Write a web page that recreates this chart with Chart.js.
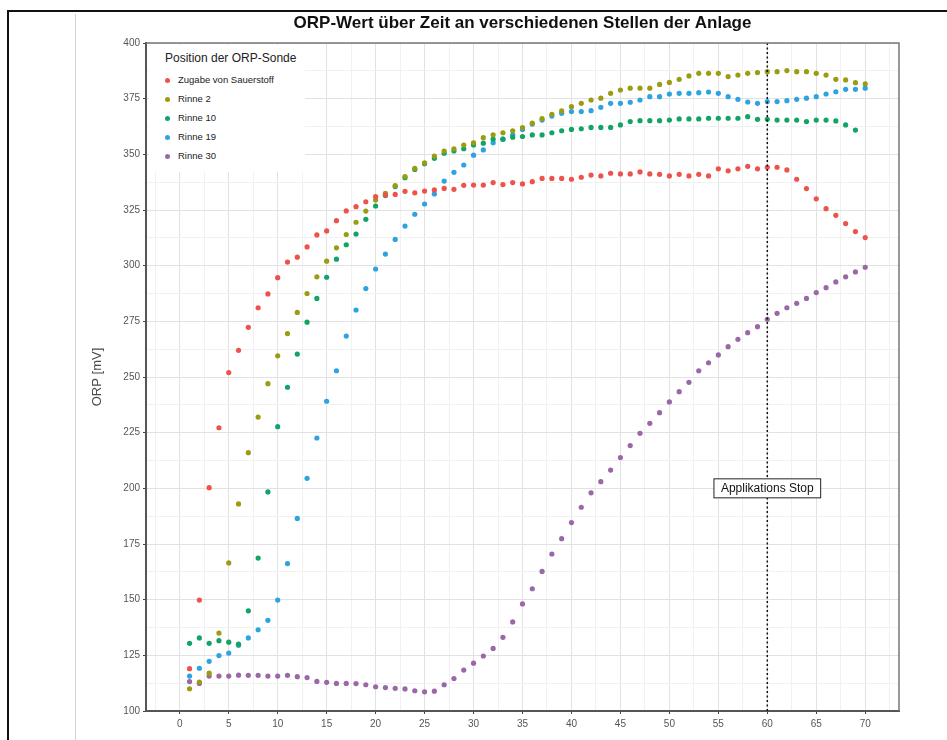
<!DOCTYPE html>
<html>
<head>
<meta charset="utf-8">
<script src="https://cdn.jsdelivr.net/npm/chart.js@4.4.1/dist/chart.umd.min.js"></script>
<style>
  body { margin: 0; background: #fff; font-family: "Liberation Sans", Arial, sans-serif; }
  #wrap { position: relative; width: 947px; height: 740px; }
  .linie { position: absolute; }
  #legende { position: absolute; left: 149px; top: 45px; width: 156px; height: 127px; background: #fff; }
  #legende .titel { position: absolute; left: 16px; top: 6px; font-size: 12px; color: #222; white-space: nowrap; }
  #legende .eintrag { position: absolute; left: 29px; font-size: 9.5px; color: #222; white-space: nowrap; }
  #legende .punkt { position: absolute; left: -13px; top: 4px; width: 5px; height: 5px; border-radius: 50%; }
</style>
</head>
<body>
<div id="wrap">
  <canvas id="orpChart" width="947" height="740"></canvas>
  <div class="linie" style="left:7px; top:10px; width:940px; height:2px; background:#111;"></div>
  <div class="linie" style="left:7px; top:10px; width:2px; height:730px; background:#111;"></div>
  <div class="linie" style="left:75px; top:14px; width:1px; height:726px; background:#d4d4d4;"></div>
  <div id="legende"></div>
</div>
<script>
var zeit = [1, 2, 3, 4, 5, 6, 7, 8, 9, 10, 11, 12, 13, 14, 15, 16, 17, 18, 19, 20,
    21, 22, 23, 24, 25, 26, 27, 28, 29, 30, 31, 32, 33, 34, 35, 36, 37, 38, 39, 40,
    41, 42, 43, 44, 45, 46, 47, 48, 49, 50, 51, 52, 53, 54, 55, 56, 57, 58, 59, 60,
    61, 62, 63, 64, 65, 66, 67, 68, 69, 70];

var sauerstoff = [119, 149.8, 200.3, 227.2, 252, 262, 272.3, 281.1, 287.3, 294.6,
    301.6, 303.8, 308.4, 313.8, 315.6, 320.2, 324.6, 326.5, 328.7, 331,
    331.7, 332, 333.4, 332.7, 333.5, 334, 334.7, 334.3, 336.1, 336.2,
    336.2, 337.3, 336.4, 337.3, 336.7, 337.7, 339.2, 339.2, 339.2, 338.8,
    339.7, 340.7, 340.3, 341.5, 341.2, 341.2, 342.1, 341.2, 341, 340.3,
    341, 340.3, 341, 340.3, 343.5, 342.6, 343.5, 344.6, 343.5, 344.2,
    344.2, 343, 338.8, 334.6, 330, 325.6, 322.6, 318.9, 315.3, 312.6];

var rinne2 = [110, 113, 117, 135, 166.5, 193, 216, 232, 247, 259.5,
    269.5, 279, 287.5, 295, 302, 308, 314, 319.5, 324.5, 329.5,
    332.5, 336, 340, 343.7, 346.2, 349.2, 351.5, 352.5, 354.2, 355.2,
    357.5, 358.8, 359.7, 360.6, 362, 364, 366, 368, 369.5, 371.4,
    372.9, 374.4, 375.2, 377.4, 378.9, 379.7, 379.7, 379.7, 381.4, 382.3,
    383.7, 385.2, 386.4, 386.4, 386.4, 384.9, 385.6, 386.4, 386.7, 387.1,
    387.1, 387.6, 387.1, 387.1, 386.4, 385.6, 383.7, 383.4, 382.2, 381.6];

var rinne10 = [130.4, 132.8, 130.4, 131.6, 130.9, 130, 145, 168.7, 198.4, 227.7,
    245.4, 260.3, 274.6, 285.3, 294.8, 302.9, 309.4, 314.2, 320.8, 326.8,
    331.5, 335.5, 339.5, 343.2, 345.8, 348.2, 350.5, 351.5, 352.5, 354.2,
    355, 356.8, 356.8, 357.7, 358, 358.7, 358.7, 359.7, 360.6, 361.2,
    361.5, 362.1, 362.1, 362.1, 363.2, 364.7, 365.1, 365.1, 365.1, 365.4,
    365.9, 365.9, 365.9, 366.2, 366.2, 366.2, 366.2, 366.9, 365.7, 365.7,
    365.4, 365.4, 365.4, 364.7, 365.4, 365.4, 365, 363.2, 360.9, null];

var rinne19 = [115.7, 119.2, 122.3, 124.9, 126, 129.5, 132.8, 136.5, 140.7, 149.8,
    166.2, 186.5, 204.5, 222.6, 239.1, 252.8, 268.4, 280.1, 289.7, 298.5,
    305.2, 311.8, 317.8, 323.1, 327.7, 332.2, 338, 341.9, 345.2, 349.6,
    352, 355.2, 356.8, 358.7, 361.2, 363.6, 365.4, 367.2, 368.4, 369.2,
    369.2, 369.6, 371.1, 372.9, 372.9, 373.4, 374.4, 375.9, 375.9, 377.1,
    377.4, 377.4, 377.7, 378, 377.4, 375.9, 374.7, 373.5, 372.9, 373.7,
    373.7, 374.1, 374.7, 375.2, 375.9, 377.1, 378.1, 379.2, 379.2, 379.7];

var rinne30 = [113.2, 112.4, 115.7, 115.7, 115.7, 116.1, 116, 116, 115.7, 115.7,
    116, 115.4, 115, 113.3, 112.9, 112.4, 112.4, 112.3, 111.8, 110.9,
    110.5, 110.2, 109.9, 109.1, 108.6, 108.9, 111.8, 114.6, 118.4, 121.5,
    124.7, 128.1, 133.1, 140, 148.1, 154.9, 162.7, 170.5, 177.4, 184.6,
    191.5, 198, 203, 208.2, 213.8, 219.2, 224.7, 229.2, 234, 238.8,
    243.4, 247.6, 252.8, 256.4, 259.9, 263.6, 266.9, 269.9, 272.6, 275.9,
    278.6, 281.1, 283.1, 285.3, 287.9, 290.1, 292.7, 295, 297.2, 299.3];

var serienNamen = ["Zugabe von Sauerstoff", "Rinne 2", "Rinne 10", "Rinne 19", "Rinne 30"];
var serienFarben = ["#ee524b", "#9c9c12", "#12a466", "#2ea3e2", "#9a68a6"];
var xTicks = [0, 5, 10, 15, 20, 25, 30, 35, 40, 45, 50, 55, 60, 65, 70];
var yTicks = [100, 125, 150, 175, 200, 225, 250, 275, 300, 325, 350, 375, 400];
var stopZeit = 60;
var stopLabelWert = 200;

var alleSerien = [sauerstoff, rinne2, rinne10, rinne19, rinne30];

function punkte(werte) {
    var out = [];
    for (var i = 0; i < zeit.length; i++) {
        if (werte[i] !== null) out.push({ x: zeit[i], y: werte[i] });
    }
    return out;
}

// major + minor grid positions (minor halfway between majors)
function mitMinor(major, step, lo, hi) {
    var list = [];
    for (var i = 0; i < major.length; i++) {
        list.push(major[i]);
        list.push(major[i] + step / 2);
        if (i === 0) list.push(major[i] - step / 2);
    }
    return list.filter(function (v) { return v >= lo && v <= hi; })
        .sort(function (a, b) { return a - b; })
        .map(function (v) { return { value: v }; });
}

var datasets = [];
for (var s = 0; s < alleSerien.length; s++) {
    datasets.push({
        label: serienNamen[s],
        data: punkte(alleSerien[s]),
        backgroundColor: serienFarben[s],
        borderWidth: 0,
        pointRadius: 2.6,
        pointHoverRadius: 2.6
    });
}

// legend as html
var leg = document.getElementById("legende");
leg.innerHTML = '<div class="titel">Position der ORP-Sonde</div>';
for (var k = 0; k < serienNamen.length; k++) {
    leg.innerHTML += '<div class="eintrag" style="top:' + (29 + k * 19) + 'px">' +
        '<span class="punkt" style="background:' + serienFarben[k] + '"></span>' + serienNamen[k] + '</div>';
}

var extras = {
    id: "extras",
    afterDatasetsDraw: function (chart) {
        var ctx = chart.ctx;
        var area = chart.chartArea;
        var xs = chart.scales.x, ys = chart.scales.y;
        var px = xs.getPixelForValue(stopZeit);

        ctx.save();
        ctx.strokeStyle = "#111";
        ctx.lineWidth = 1.5;
        ctx.setLineDash([2, 2.5]);
        ctx.beginPath();
        ctx.moveTo(px, area.top);
        ctx.lineTo(px, area.bottom);
        ctx.stroke();
        ctx.setLineDash([]);

        // label box
        var py = ys.getPixelForValue(stopLabelWert);
        ctx.font = "12px 'Liberation Sans', Arial, sans-serif";
        var txt = "Applikations Stop";
        var w = ctx.measureText(txt).width + 14;
        var h = 19;
        ctx.fillStyle = "#fff";
        ctx.fillRect(px - w / 2, py - h / 2, w, h);
        ctx.strokeStyle = "#222";
        ctx.lineWidth = 1;
        ctx.strokeRect(px - w / 2, py - h / 2, w, h);
        ctx.fillStyle = "#111";
        ctx.textAlign = "center";
        ctx.textBaseline = "middle";
        ctx.fillText(txt, px, py + 0.5);

        // panel border top / right
        ctx.strokeStyle = "#777";
        ctx.lineWidth = 1.5;
        ctx.beginPath();
        ctx.moveTo(area.left, area.top);
        ctx.lineTo(area.right, area.top);
        ctx.lineTo(area.right, area.bottom);
        ctx.stroke();

        // title
        ctx.font = "bold 17px 'Liberation Sans', Arial, sans-serif";
        ctx.fillStyle = "#111";
        ctx.fillText("ORP-Wert über Zeit an verschiedenen Stellen der Anlage", (area.left + area.right) / 2, 23);
        ctx.restore();
    }
};

function gitterFarbe(majors, hell, dunkel) {
    return function (c) {
        if (!c.tick) return hell;
        return majors.indexOf(c.tick.value) >= 0 ? dunkel : hell;
    };
}

new Chart("orpChart", {
    type: "scatter",
    data: { datasets: datasets },
    plugins: [extras],
    options: {
        responsive: false,
        animation: false,
        layout: { padding: { left: 0, right: 48, top: 43, bottom: 0 } },
        plugins: {
            legend: { display: false },
            tooltip: { enabled: false }
        },
        scales: {
            x: {
                type: "linear",
                min: -3.45,
                max: 73.45,
                afterBuildTicks: function (axis) { axis.ticks = mitMinor(xTicks, 5, -3.45, 73.45); },
                afterFit: function (axis) { axis.height = 29; },
                ticks: {
                    autoSkip: false,
                    maxRotation: 0,
                    padding: 4,
                    color: "#555",
                    font: { size: 10, family: "'Liberation Sans', Arial, sans-serif" },
                    callback: function (v) { return xTicks.indexOf(v) >= 0 ? String(v) : ""; }
                },
                grid: {
                    color: gitterFarbe(xTicks, "#f1f1f1", "#e2e2e2"),
                    lineWidth: 1,
                    tickLength: 3,
                    tickColor: function (c) { return c.tick && xTicks.indexOf(c.tick.value) >= 0 ? "#444" : "rgba(0,0,0,0)"; }
                },
                border: { display: true, color: "#555", width: 2 }
            },
            y: {
                min: 100,
                max: 400,
                afterBuildTicks: function (axis) { axis.ticks = mitMinor(yTicks, 25, 100, 400); },
                afterFit: function (axis) { axis.width = 146; },
                ticks: {
                    autoSkip: false,
                    padding: 3,
                    color: "#555",
                    font: { size: 10, family: "'Liberation Sans', Arial, sans-serif" },
                    callback: function (v) { return yTicks.indexOf(v) >= 0 ? String(v) : ""; }
                },
                grid: {
                    color: gitterFarbe(yTicks, "#f1f1f1", "#e2e2e2"),
                    lineWidth: 1,
                    tickLength: 3,
                    tickColor: function (c) { return c.tick && yTicks.indexOf(c.tick.value) >= 0 ? "#444" : "rgba(0,0,0,0)"; }
                },
                border: { display: true, color: "#555", width: 2 },
                title: {
                    display: true,
                    text: "ORP [mV]",
                    color: "#4a4a4a",
                    padding: { top: 90, bottom: 0 },
                    font: { size: 13, family: "'Liberation Sans', Arial, sans-serif" }
                }
            }
        }
    }
});
</script>
</body>
</html>
